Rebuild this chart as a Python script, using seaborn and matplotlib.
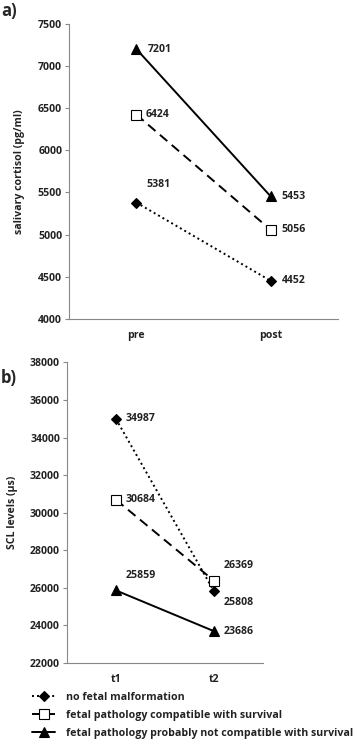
import pandas as pd
import matplotlib.pyplot as plt
import seaborn as sns

# data
groups = ["no fetal malformation",
          "fetal pathology compatible with survival",
          "fetal pathology probably not compatible with survival"]
cortisol_times = ["pre", "post"]
cortisol_pre = [5381, 6424, 7201]
cortisol_post = [4452, 5056, 5453]
scl_times = ["t1", "t2"]
scl_t1 = [34987, 30684, 25859]
scl_t2 = [25808, 26369, 23686]

sns.set_style("white")
plt.rcParams['font.family'] = ['Open Sans', 'DejaVu Sans']
plt.rcParams['font.weight'] = 'bold'

markers = {groups[0]: "D", groups[1]: "s", groups[2]: "^"}
dashes = {groups[0]: (1, 1.6), groups[1]: (5, 3), groups[2]: ""}
palette = {g: "black" for g in groups}
txt_col = "#222222"
fs = 7.6


def long_df(times, v1, v2):
    rows = []
    for g, a, b in zip(groups, v1, v2):
        rows.append({"time": times[0], "group": g, "value": a})
        rows.append({"time": times[1], "group": g, "value": b})
    return pd.DataFrame(rows)


df_a = long_df(cortisol_times, cortisol_pre, cortisol_post)
df_b = long_df(scl_times, scl_t1, scl_t2)

fig = plt.figure(figsize=(3.58, 7.55), dpi=100)
ax1 = fig.add_axes([0.193, 0.5775, 0.751, 0.391])
ax2 = fig.add_axes([0.187, 0.122, 0.548, 0.398])


def draw(ax, df, times, ylim, yticks, ylabel, offsets):
    sns.lineplot(data=df, x="time", y="value", hue="group", style="group",
                 markers=markers, dashes=dashes, palette=palette,
                 markersize=7.5, linewidth=1.4, legend=False, ax=ax,
                 markeredgecolor="black", markeredgewidth=0.8)
    for ln in ax.lines:
        if ln.get_marker() == "s":
            ln.set_markerfacecolor("white")
            ln.set_markersize(7)
        if ln.get_marker() == "D":
            ln.set_markersize(5.5)
    ax.set_xlim(-0.5, 1.5)
    ax.set_ylim(*ylim)
    ax.set_yticks(yticks)
    ax.set_yticklabels([str(t) for t in yticks], fontsize=fs, fontweight='bold', color=txt_col)
    ax.set_xticks([0, 1])
    ax.set_xticklabels(times, fontsize=fs, fontweight='bold', color=txt_col)
    ax.set_xticks([-0.5, 0.5, 1.5], minor=True)
    ax.tick_params(axis='x', which='major', length=0, pad=8)
    ax.tick_params(axis='x', which='minor', length=3, color='#888888', direction='out')
    ax.tick_params(axis='y', length=3, color='#888888', direction='out', left=True, pad=2)
    for s in ["top", "right"]:
        ax.spines[s].set_visible(False)
    for s in ["left", "bottom"]:
        ax.spines[s].set_color('#888888')
        ax.spines[s].set_linewidth(0.8)
    ax.set_xlabel("")
    ax.set_ylabel(ylabel, fontsize=fs, fontweight='bold', labelpad=9, color=txt_col)
    for (xi, yi, dx, dy) in offsets:
        ax.annotate(str(yi), (xi, yi), xytext=(dx, dy), textcoords='offset points',
                    fontsize=fs, fontweight='bold', va='center', ha='left', color=txt_col)


draw(ax1, df_a, cortisol_times, (4000, 7500), list(range(4000, 7501, 500)),
     "salivary cortisol (pg/ml)",
     [(0, cortisol_pre[0], 7, 13), (0, cortisol_pre[1], 7, 0), (0, cortisol_pre[2], 8, 0),
      (1, cortisol_post[0], 8, 0), (1, cortisol_post[1], 8, 0), (1, cortisol_post[2], 8, 0)])

draw(ax2, df_b, scl_times, (22000, 38000), list(range(22000, 38001, 2000)),
     "SCL levels (µs)",
     [(0, scl_t1[0], 7, 0), (0, scl_t1[1], 7, 0), (0, scl_t1[2], 7, 11),
      (1, scl_t2[0], 7, -8), (1, scl_t2[1], 7, 11), (1, scl_t2[2], 7, 0)])

fig.text(0.003, 0.985, "a)", fontsize=12, fontweight='bold', va='center')
fig.text(0.003, 0.499, "b)", fontsize=12, fontweight='bold', va='center')

# legend below panel b
handles = [l for l in ax2.lines[:3]]
leg = fig.legend(handles, groups, loc='upper left', bbox_to_anchor=(0.08, 0.088),
                 frameon=False, fontsize=7.7, handlelength=2.2, handletextpad=1.0,
                 labelspacing=0.65, borderaxespad=0, borderpad=0.3)
for t in leg.get_texts():
    t.set_fontweight('bold')
    t.set_color(txt_col)

fig.savefig("out.png", dpi=100)
